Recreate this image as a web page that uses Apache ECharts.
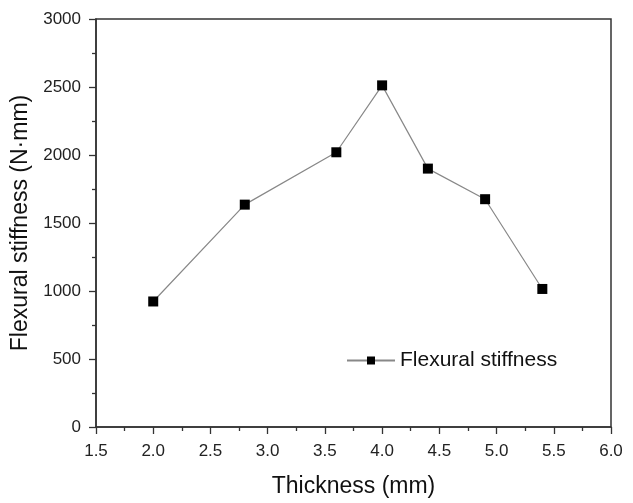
<!DOCTYPE html>
<html>
<head>
<meta charset="utf-8">
<script src="https://cdn.jsdelivr.net/npm/echarts@6/dist/echarts.min.js"></script>
<style>html,body{margin:0;padding:0;background:#fff;}#c{width:633px;height:503px;}</style>
</head>
<body>
<div id="c"></div>
<script>
const thickness = [2.0, 2.8, 3.6, 4.0, 4.4, 4.9, 5.4];
const stiffness = [923, 1635, 2020, 2512, 1900, 1675, 1015];
const seriesName = 'Flexural stiffness';
const xTitle = 'Thickness (mm)';
const yTitle = 'Flexural stiffness (N\u00B7mm)';

const chart = echarts.init(document.getElementById('c'), null, {renderer: 'canvas'});
const font = 'Liberation Sans, Arial, sans-serif';
const axisCommon = {
  axisLine: {show: true, onZero: false, lineStyle: {color: '#333', width: 1.5}},
  axisTick: {show: true, inside: false, length: 7, lineStyle: {color: '#333', width: 1.3}},
  minorTick: {show: true, splitNumber: 2, length: 4, lineStyle: {color: '#333', width: 1.3}},
  splitLine: {show: false},
  axisLabel: {color: '#222', fontSize: 17, fontFamily: font}
};
chart.setOption({
  animation: false,
  backgroundColor: '#fff',
  grid: {left: 96, right: 22, top: 19, bottom: 69, show: true, borderColor: '#333', borderWidth: 1.5, containLabel: false},
  legend: {
    left: 341, top: 345,
    itemWidth: 48, itemHeight: 10, itemGap: 6,
    textStyle: {fontSize: 21, fontFamily: font, color: '#111'},
    data: [seriesName]
  },
  xAxis: Object.assign({}, axisCommon, {
    type: 'value', min: 1.5, max: 6.0, interval: 0.5,
    name: xTitle, nameLocation: 'middle', nameGap: 48,
    nameTextStyle: {fontSize: 23, fontFamily: font, color: '#111'},
    axisLabel: Object.assign({}, axisCommon.axisLabel, {margin: 16, formatter: v => v.toFixed(1)})
  }),
  yAxis: Object.assign({}, axisCommon, {
    type: 'value', min: 0, max: 3000, interval: 500,
    name: yTitle, nameLocation: 'middle', nameGap: 47,
    nameTextStyle: {fontSize: 23, fontFamily: font, color: '#111'},
    axisLabel: Object.assign({}, axisCommon.axisLabel, {margin: 15, formatter: v => String(v)})
  }),
  series: [{
    name: seriesName,
    type: 'line',
    data: thickness.map((x, i) => [x, stiffness[i]]),
    symbol: 'rect', symbolSize: 10,
    lineStyle: {color: '#888', width: 1.2},
    itemStyle: {color: '#000'}
  }]
});
</script>
</body>
</html>
